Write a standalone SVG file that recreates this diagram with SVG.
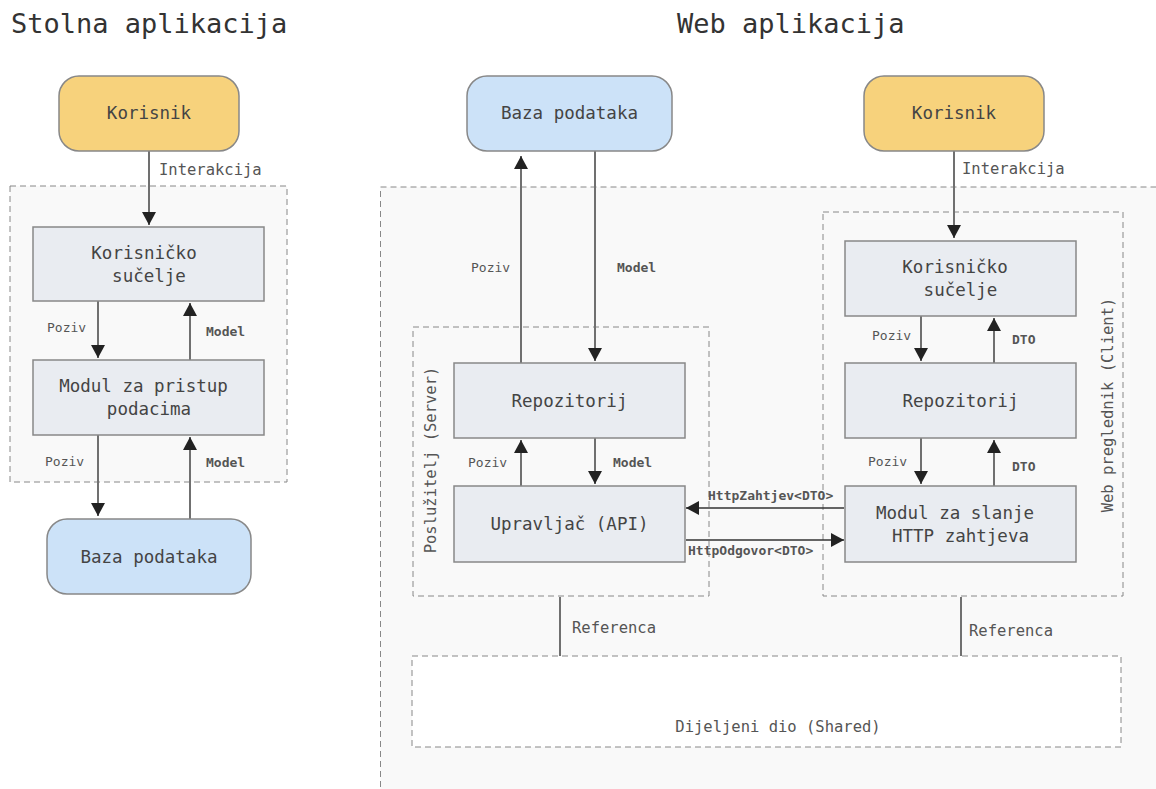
<svg xmlns="http://www.w3.org/2000/svg" width="1156" height="789" viewBox="0 0 1156 789">
<style>
text{font-family:"DejaVu Sans Mono","Liberation Mono",monospace;}
.title{font-size:27px;fill:#333;}
.node{font-size:17.5px;fill:#444;text-anchor:middle;dominant-baseline:central;}
.lbl{font-size:15.5px;fill:#555;}
.sm{font-size:13px;fill:#555;}
.b{font-size:13px;fill:#555;font-weight:bold;}
.grp{fill:#f9f9f9;stroke:#888;stroke-width:1;stroke-dasharray:6 4;}
.sub{fill:none;stroke:#888;stroke-width:1;stroke-dasharray:6 4;}
.box{fill:#e9ecf1;stroke:#888;stroke-width:1.5;}
.user{fill:#f7d27c;stroke:#888;stroke-width:1.5;}
.db{fill:#cce2f8;stroke:#888;stroke-width:1.5;}
.e{stroke:#707070;stroke-width:2;fill:none;}
.h{stroke:#333;stroke-width:1.5;fill:none;}
</style>
<defs>
<marker id="ah" viewBox="0 0 13 14" refX="13" refY="7" markerWidth="13" markerHeight="14" markerUnits="userSpaceOnUse" orient="auto">
<path d="M0,0 L13,7 L0,14 z" fill="#222"/>
</marker>
</defs>
<rect width="1156" height="789" fill="#ffffff"/>

<g id="titles">
<text class="title" x="11" y="33">Stolna aplikacija</text>
<text class="title" x="677" y="33">Web aplikacija</text>
</g>

<g id="groups">
<rect id="desktop-group" class="grp" x="10" y="186" width="277" height="296"/>
<rect id="web-group" class="grp" x="380.5" y="187" width="800" height="640"/>
<rect id="server-group" class="sub" x="413" y="327" width="296" height="269"/>
<text class="lbl" transform="translate(436,460) rotate(-90)" text-anchor="middle">Poslužitelj (Server)</text>
<rect id="client-group" class="sub" x="823" y="212" width="300" height="384"/>
<text class="lbl" transform="translate(1113,405) rotate(-90)" text-anchor="middle">Web preglednik (Client)</text>
<rect id="shared-group" x="412" y="656" width="709" height="91" fill="#ffffff" stroke="#888" stroke-width="1" stroke-dasharray="6 4"/>
<text class="lbl" x="778" y="732" text-anchor="middle">Dijeljeni dio (Shared)</text>
</g>

<g id="connectors">
<line class="e" x1="149" y1="151" x2="149" y2="225" marker-end="url(#ah)"/>
<line class="e" x1="98" y1="301" x2="98" y2="358" marker-end="url(#ah)"/>
<line class="e" x1="190" y1="360" x2="190" y2="303" marker-end="url(#ah)"/>
<line class="e" x1="98" y1="435" x2="98" y2="516" marker-end="url(#ah)"/>
<line class="e" x1="190" y1="519" x2="190" y2="437" marker-end="url(#ah)"/>

<line class="e" x1="521" y1="363" x2="521" y2="156" marker-end="url(#ah)"/>
<line class="e" x1="595" y1="151" x2="595" y2="361" marker-end="url(#ah)"/>
<line class="e" x1="521" y1="486" x2="521" y2="440" marker-end="url(#ah)"/>
<line class="e" x1="595" y1="438" x2="595" y2="484" marker-end="url(#ah)"/>

<line class="e" x1="954" y1="151" x2="954" y2="238" marker-end="url(#ah)"/>
<line class="e" x1="921" y1="316" x2="921" y2="361" marker-end="url(#ah)"/>
<line class="e" x1="994" y1="363" x2="994" y2="318" marker-end="url(#ah)"/>
<line class="e" x1="921" y1="438" x2="921" y2="484" marker-end="url(#ah)"/>
<line class="e" x1="994" y1="486" x2="994" y2="440" marker-end="url(#ah)"/>

<line class="h" x1="844" y1="508" x2="686" y2="508" marker-end="url(#ah)"/>
<line class="h" x1="686" y1="540" x2="844" y2="540" marker-end="url(#ah)"/>

<line class="e" x1="560" y1="597" x2="560" y2="656"/>
<line class="e" x1="961" y1="597" x2="961" y2="656"/>

<text class="lbl" x="159" y="175">Interakcija</text>
<text class="sm" x="47" y="332">Poziv</text>
<text class="b" x="206" y="336">Model</text>
<text class="sm" x="45" y="466">Poziv</text>
<text class="b" x="206" y="467">Model</text>
<text class="sm" x="471" y="272">Poziv</text>
<text class="b" x="617" y="272">Model</text>
<text class="sm" x="468" y="467">Poziv</text>
<text class="b" x="613" y="467">Model</text>
<text class="lbl" x="962" y="174">Interakcija</text>
<text class="sm" x="872" y="340">Poziv</text>
<text class="b" x="1012" y="344">DTO</text>
<text class="sm" x="868" y="466">Poziv</text>
<text class="b" x="1012" y="471">DTO</text>
<text class="b" x="708" y="500">HttpZahtjev&lt;DTO&gt;</text>
<text class="b" x="688" y="555">HttpOdgovor&lt;DTO&gt;</text>
<text class="lbl" x="572" y="633">Referenca</text>
<text class="lbl" x="969" y="636">Referenca</text>
</g>

<g id="desktop-korisnik">
<rect class="user" x="59" y="76" width="180" height="75" rx="20"/>
<text class="node" x="149" y="113">Korisnik</text>
</g>
<g id="desktop-ui">
<rect class="box" x="33" y="227" width="231" height="74"/>
<text class="node" x="144" y="253">Korisničko</text>
<text class="node" x="149" y="276">sučelje</text>
</g>
<g id="desktop-dal">
<rect class="box" x="33" y="360" width="231" height="75"/>
<text class="node" x="143.5" y="386">Modul za pristup</text>
<text class="node" x="149" y="409">podacima</text>
</g>
<g id="desktop-baza">
<rect class="db" x="47" y="519" width="204" height="75" rx="20"/>
<text class="node" x="149" y="557">Baza podataka</text>
</g>

<g id="web-baza">
<rect class="db" x="467" y="76" width="205" height="75" rx="20"/>
<text class="node" x="569.5" y="113">Baza podataka</text>
</g>
<g id="web-korisnik">
<rect class="user" x="864" y="76" width="180" height="75" rx="20"/>
<text class="node" x="954" y="113">Korisnik</text>
</g>
<g id="server-repo">
<rect class="box" x="454" y="363" width="231" height="75"/>
<text class="node" x="569.5" y="401">Repozitorij</text>
</g>
<g id="server-api">
<rect class="box" x="454" y="486" width="231" height="76"/>
<text class="node" x="569.5" y="524">Upravljač (API)</text>
</g>
<g id="client-ui">
<rect class="box" x="845" y="241" width="231" height="75"/>
<text class="node" x="955" y="267">Korisničko</text>
<text class="node" x="960.5" y="290">sučelje</text>
</g>
<g id="client-repo">
<rect class="box" x="845" y="363" width="231" height="75"/>
<text class="node" x="960.5" y="401">Repozitorij</text>
</g>
<g id="client-http">
<rect class="box" x="845" y="486" width="231" height="76"/>
<text class="node" x="955" y="513">Modul za slanje</text>
<text class="node" x="960.5" y="536">HTTP zahtjeva</text>
</g>
</svg>
